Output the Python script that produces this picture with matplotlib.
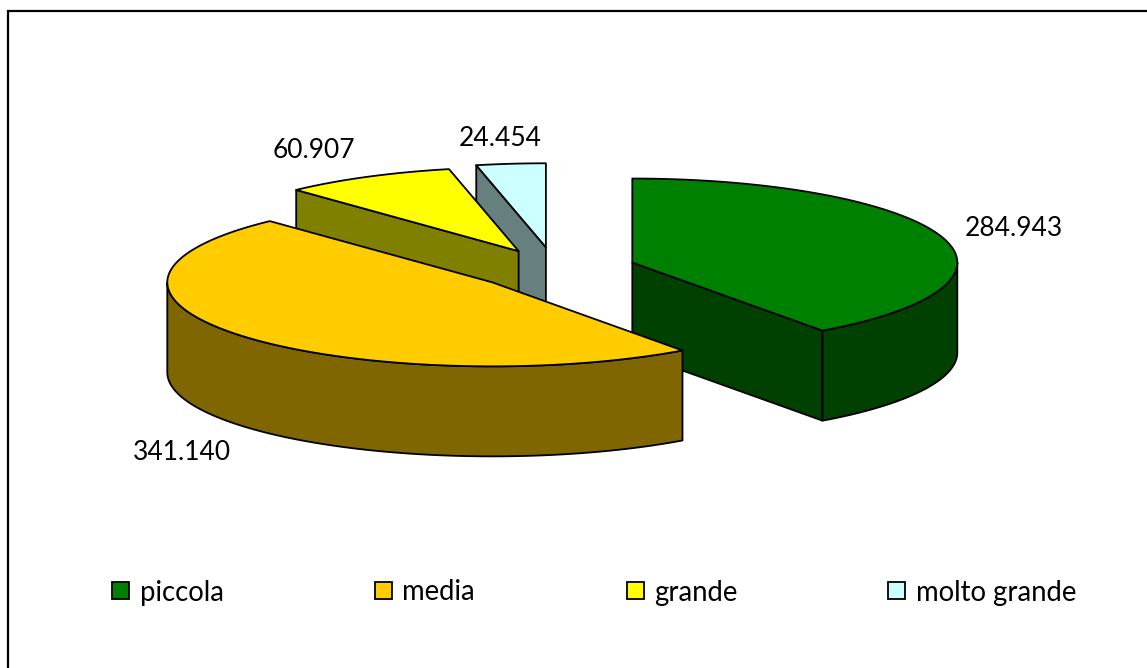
import numpy as np
import matplotlib
matplotlib.use('Agg')
import matplotlib.pyplot as plt
from matplotlib.patches import Polygon, Rectangle

plt.rcParams['font.family'] = ['Lato', 'DejaVu Sans']

categories = ['piccola', 'media', 'grande', 'molto grande']
values = [284943, 341140, 60907, 24454]
value_labels = ['284.943', '341.140', '60.907', '24.454']

top_colors = ['#008000', '#FFCC00', '#FFFF00', '#CCFFFF']
side_colors = ['#004000', '#806600', '#808000', '#668080']
explode = [0.25, 0.25, 0.24, 0.26]
label_pos = [(1014, 229), (182, 452), (314, 150), (500, 139)]
legend_x = [112, 375, 627, 888]

# pie geometry, all in image pixels
cx, cy = 555, 269
rx, ry = 325, 84
depth = 90
draw_order = [3, 2, 0, 1]


def rim(center, a0, a1):
    # points on the ellipse, angle clockwise from 12 o'clock
    t = np.radians(np.linspace(a0, a1, max(int(abs(a1 - a0) * 2), 2)))
    return np.column_stack([center[0] + rx * np.sin(t), center[1] - ry * np.cos(t)])


def shifted(pts):
    return np.vstack([pts, (pts + [0, depth])[::-1]])


fig = plt.figure(figsize=(11.47, 6.68), dpi=100)
ax = fig.add_axes([0, 0, 1, 1])
ax.set_xlim(0, 1147)
ax.set_ylim(668, 0)
ax.axis('off')

# chart border, only top and left fall inside the image
ax.plot([8, 8, 1147], [668, 11, 11], color='black', lw=1.6, solid_joinstyle='miter')

angles = np.cumsum([0] + values) / sum(values) * 360

for i in draw_order:
    a0, a1 = angles[i], angles[i + 1]
    mid = np.radians((a0 + a1) / 2)
    c = np.array([cx + explode[i] * rx * np.sin(mid), cy - explode[i] * ry * np.cos(mid)])
    style = dict(ec='black', lw=1.3, joinstyle='round')

    # flat cut faces that look towards the viewer
    if -np.sin(np.radians(a0)) > 1e-6:
        edge = np.array([c, rim(c, a0, a0 + 1)[0]])
        ax.add_patch(Polygon(shifted(edge), fc=side_colors[i], **style))
    if np.sin(np.radians(a1)) > 1e-6:
        edge = np.array([c, rim(c, a1, a1 + 1)[0]])
        ax.add_patch(Polygon(shifted(edge), fc=side_colors[i], **style))

    # curved wall, front half of the ellipse only
    lo, hi = max(a0, 90), min(a1, 270)
    if lo < hi:
        ax.add_patch(Polygon(shifted(rim(c, lo, hi)), fc=side_colors[i], **style))

    top = np.vstack([c, rim(c, a0, a1)])
    ax.add_patch(Polygon(top, fc=top_colors[i], **style))

for (x, y), s in zip(label_pos, value_labels):
    ax.text(x, y, s, fontsize=19, ha='center', va='center', color='black')

for x, name, col in zip(legend_x, categories, top_colors):
    ax.add_patch(Rectangle((x, 581.5), 17, 17, fc=col, ec='black', lw=1.3))
    ax.text(x + 27.5, 592.5, name, fontsize=19.8, ha='left', va='center', color='black')

fig.savefig('out.png', dpi=100)
